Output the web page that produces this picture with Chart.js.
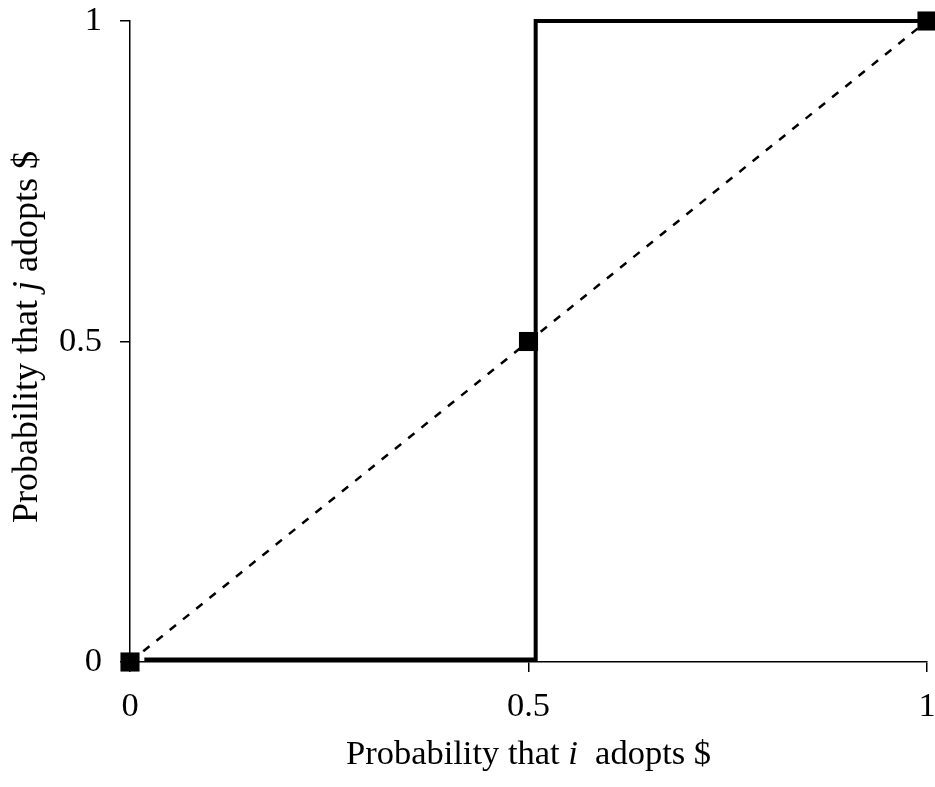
<!DOCTYPE html>
<html>
<head>
<meta charset="utf-8">
<script src="https://cdn.jsdelivr.net/npm/chart.js@4/dist/chart.umd.min.js"></script>
<style>
html,body{margin:0;padding:0;background:#fff;}
#wrap{width:935px;height:787px;}
</style>
</head>
<body>
<div id="wrap"><canvas id="c" width="935" height="787"></canvas></div>
<script>
// Data
const tickValues = [0, 0.5, 1];
const tickLabels = ["0", "0.5", "1"];
const stepX = [0.018, 0.509, 0.509, 1];
const stepY = [0.004, 0.004, 1, 1];
const diagX = [0, 1];
const diagY = [0, 1];
const markerX = [0, 0.5, 1];
const markerY = [0, 0.5, 1];
const xTitleParts = [["Probability that ", false], ["i", true], ["  adopts $", false]];
const yTitleParts = [["Probability that ", false], ["j", true], [" adopts $", false]];

const FONT = "'Liberation Serif', 'Times New Roman', serif";
const TICK_SIZE = 34.5;
const X_TITLE_SIZE = 34.5;
const Y_TITLE_SIZE = 36;

const toPts = (xs, ys) => xs.map((x, i) => ({x: x, y: ys[i]}));

function drawParts(ctx, parts, cx, cy, size) {
  let total = 0;
  const widths = parts.map(p => {
    ctx.font = (p[1] ? "italic " : "") + size + "px " + FONT;
    const w = ctx.measureText(p[0]).width;
    total += w;
    return w;
  });
  let x = cx - total / 2;
  parts.forEach((p, i) => {
    ctx.font = (p[1] ? "italic " : "") + size + "px " + FONT;
    ctx.fillText(p[0], x, cy);
    x += widths[i];
  });
}

const titlePlugin = {
  id: 'titles',
  afterDraw(chart) {
    const ctx = chart.ctx;
    const a = chart.chartArea;
    ctx.save();
    ctx.fillStyle = '#000';
    ctx.textBaseline = 'middle';
    ctx.textAlign = 'left';
    drawParts(ctx, xTitleParts, (a.left + a.right) / 2, 755, X_TITLE_SIZE);
    ctx.translate(28, 337);
    ctx.rotate(-Math.PI / 2);
    drawParts(ctx, yTitleParts, 0, 0, Y_TITLE_SIZE);
    ctx.restore();
  }
};

const tickCb = function(v) {
  const i = tickValues.indexOf(v);
  return i >= 0 ? tickLabels[i] : '';
};

function zeroPad(s) {
  s.paddingLeft = 0; s.paddingRight = 0; s.paddingTop = 0; s.paddingBottom = 0;
}

new Chart(document.getElementById('c'), {
  type: 'line',
  data: {
    datasets: [
      {
        data: toPts(markerX, markerY),
        showLine: false,
        pointStyle: 'rect',
        pointRadius: 13.5,
        pointHoverRadius: 13.5,
        backgroundColor: '#000',
        borderColor: '#000',
        borderWidth: 0,
        clip: false,
        order: 0
      },
      {
        data: toPts(stepX, stepY),
        borderColor: '#000',
        borderWidth: 4,
        pointRadius: 0,
        fill: false,
        tension: 0,
        borderJoinStyle: 'miter',
        clip: false,
        order: 1
      },
      {
        data: toPts(diagX, diagY),
        borderColor: '#000',
        borderWidth: 2.5,
        borderDash: [8, 9],
        pointRadius: 0,
        fill: false,
        tension: 0,
        order: 2
      }
    ]
  },
  options: {
    responsive: false,
    animation: false,
    events: [],
    layout: { autoPadding: false, padding: { top: 21, right: 8, left: 0, bottom: 0 } },
    plugins: { legend: { display: false }, tooltip: { enabled: false }, title: { display: false } },
    scales: {
      x: {
        type: 'linear',
        min: 0, max: 1,
        afterBuildTicks(s) { s.ticks = tickValues.map(v => ({value: v})); },
        afterFit(s) { s.height = 125; zeroPad(s); },
        grid: { drawOnChartArea: false, drawTicks: true, tickLength: 10, color: '#000', lineWidth: 1.5 },
        border: { color: '#000', width: 1.5 },
        ticks: { callback: tickCb, color: '#000', font: { family: FONT, size: TICK_SIZE }, padding: 14, maxRotation: 0 }
      },
      y: {
        type: 'linear',
        min: 0, max: 1,
        afterBuildTicks(s) { s.ticks = tickValues.map(v => ({value: v})); },
        afterFit(s) { s.width = 130; zeroPad(s); },
        grid: { drawOnChartArea: false, drawTicks: true, tickLength: 10, color: '#000', lineWidth: 1.5 },
        border: { color: '#000', width: 1.5 },
        ticks: { callback: tickCb, color: '#000', font: { family: FONT, size: TICK_SIZE }, padding: 18 }
      }
    }
  },
  plugins: [titlePlugin]
});
</script>
</body>
</html>
